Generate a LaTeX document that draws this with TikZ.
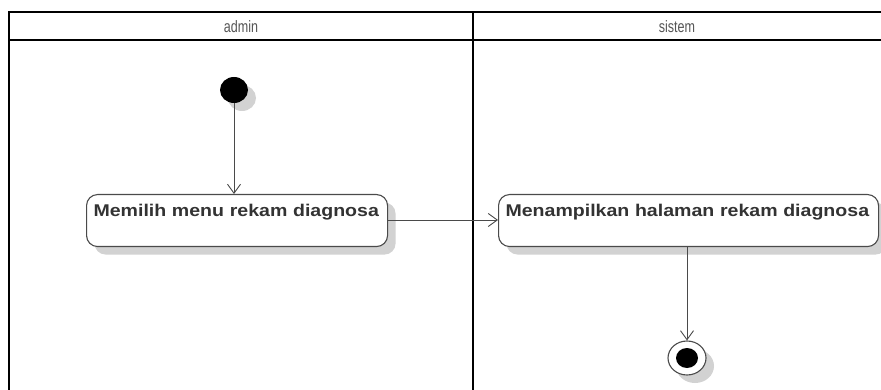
\documentclass[tikz,border=0pt]{standalone}
\usepackage{fontspec}
\setmainfont{Liberation Sans}
\newfontfamily\lanefont[FakeStretch=0.76]{Liberation Sans}
\newfontfamily\actfont[FakeStretch=1.15]{Liberation Sans Bold}
\usetikzlibrary{shadows,arrows.meta,shapes.geometric}
\definecolor{linegray}{HTML}{4A4A4A}
\definecolor{textgray}{HTML}{333333}
\definecolor{titlegray}{HTML}{555555}
\definecolor{shade}{HTML}{D2D2D2}
\tikzset{
  lane/.style={line width=2.8pt, black},
  lanetitle/.style={font=\lanefont\fontsize{16.5}{18}\selectfont, text=titlegray},
  softshadow/.style={drop shadow={shadow xshift=8pt, shadow yshift=-8pt, fill=shade, opacity=1}},
  action/.style={draw=linegray, line width=1.1pt, fill=white, rounded corners=11pt,
    anchor=north west, inner xsep=7pt, inner ysep=0pt, align=left,
    text height=22pt, text depth=30pt, text=textgray,
    font=\actfont\fontsize{17}{19}\selectfont, softshadow},
  startnode/.style={ellipse, fill=black, minimum width=28pt, minimum height=26pt, inner sep=0pt, softshadow},
  endring/.style={ellipse, draw=linegray, line width=1.1pt, fill=white, minimum width=38pt, minimum height=34pt, inner sep=0pt, softshadow},
  endcore/.style={ellipse, fill=black, minimum width=22pt, minimum height=20pt, inner sep=0pt},
  flow/.style={draw=linegray, line width=0.9pt, -{Straight Barb[length=9pt, width=13pt, line width=0.9pt]}}
}
\begin{document}
\begin{tikzpicture}[x=1pt, y=-1pt]
  \useasboundingbox (0,0) rectangle (881,390);
  \fill[white] (0,0) rectangle (881,390);

  % swimlane frame
  \draw[lane] (9,392) -- (9,12) -- (883,12);
  \draw[lane] (9,40) -- (883,40);
  \draw[lane] (473,12) -- (473,392);
  \node[lanetitle] (laneA) at (241,27) {admin};
  \node[lanetitle] (laneB) at (677,27) {sistem};

  % activity nodes
  \node[startnode] (start) at (234,90) {};
  \node[action, text width=287pt] (pilih) at (86,194) {Memilih menu rekam diagnosa};
  \node[action, text width=366pt] (tampil) at (498,194) {Menampilkan halaman rekam diagnosa};
  \node[endring] (stop) at (687,358) {};
  \node[endcore] (stopcore) at (stop.center) {};

  % control flow
  \draw[flow] (start) -- (pilih.north -| start);
  \draw[flow] (pilih.east |- 0,220) -- (tampil.west |- 0,220);
  \draw[flow] (tampil.south -| stop) -- (stop.north);
\end{tikzpicture}
\end{document}
